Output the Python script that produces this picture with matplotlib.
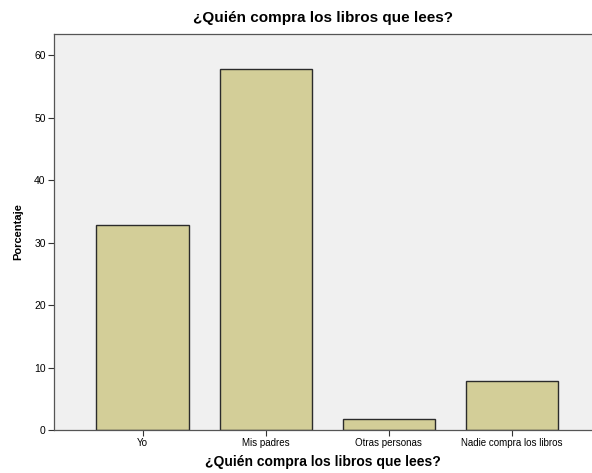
import numpy as np
import matplotlib
matplotlib.use("Agg")
import matplotlib.pyplot as plt

plt.rcParams['font.family'] = ['Liberation Sans', 'DejaVu Sans']

# data
categorias = ["Yo", "Mis padres", "Otras personas", "Nadie compra los libros"]
porcentaje = [32.8, 57.8, 1.7, 7.8]
yticks = [0, 10, 20, 30, 40, 50, 60]
titulo = "¿Quién compra los libros que lees?"

fig = plt.figure(figsize=(5.92, 4.73), dpi=100)
ax = fig.add_axes([0.0912, 0.0909, 0.9088, 0.8371])
ax.set_facecolor("#F0F0F0")

x = np.arange(len(categorias))
ax.bar(x, porcentaje, width=0.75, color="#D3CE98", edgecolor="#2b2b2b", linewidth=1.0, zorder=2)

ax.set_xlim(-0.72, 3.65)
ax.set_ylim(0, 63.4)
ax.set_xticks(x)
ax.set_xticklabels(categorias, fontsize=7)
ax.set_yticks(yticks)
ax.set_yticklabels([str(v) for v in yticks], fontsize=7.5)
ax.tick_params(axis='both', length=4, width=0.8, color="#333333", pad=2)

ax.spines["right"].set_visible(False)
for side in ("left", "bottom", "top"):
    ax.spines[side].set_color("#555555")
    ax.spines[side].set_linewidth(0.9)

ax.set_ylabel("Porcentaje", fontsize=8, fontweight="bold", labelpad=8)
ax.set_xlabel(titulo, fontsize=10, fontweight="bold", labelpad=5)
ax.set_title(titulo, fontsize=11, fontweight="bold", pad=9)

fig.savefig("out.png", dpi=100)
